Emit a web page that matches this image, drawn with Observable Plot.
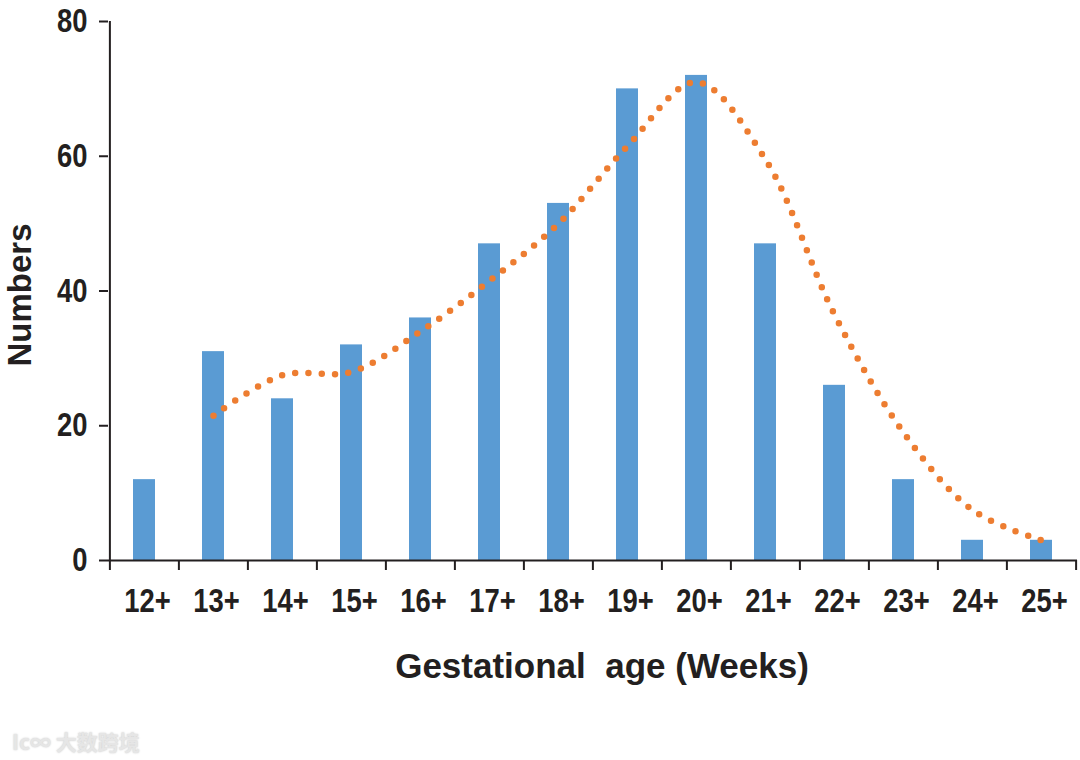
<!DOCTYPE html>
<html>
<head>
<meta charset="utf-8">
<script src="https://cdn.jsdelivr.net/npm/d3@7"></script>
<script src="https://cdn.jsdelivr.net/npm/@observablehq/plot@0.6"></script>
<style>
  html, body { margin: 0; padding: 0; background: #ffffff; }
  #wrap { position: relative; width: 1080px; height: 760px; overflow: hidden; }
  svg text { white-space: pre; }
  #wm { position: absolute; left: 12px; top: 726px; color: #e6e6e6;
        font-family: "Noto Sans CJK SC", sans-serif; font-size: 21px; font-weight: bold;
        text-shadow: 0 0 2px #c8c8c8; }
</style>
</head>
<body>
<div id="wrap"><div id="chart"></div><div id="wm">Ic∞ 大数跨境</div></div>
<script>
// Data
const ages = ["12+","13+","14+","15+","16+","17+","18+","19+","20+","21+","22+","23+","24+","25+"];
const counts = [12, 31, 24, 32, 36, 47, 53, 70, 72, 47, 26, 12, 3, 3];
const trendAges = ["13+","14+","15+","16+","17+","18+","19+","20+","21+","22+","23+","24+","25+"];
const trendValues = [21.5, 27.5, 28, 34, 41.5, 50, 61.5, 71, 59.5, 36.5, 19, 7.5, 3];
const yTicks = [0, 20, 40, 60, 80];

const bars = ages.map((a, i) => ({age: a, count: counts[i]}));
const trend = trendAges.map((a, i) => ({age: a, value: trendValues[i]}));

const W = 1080, H = 700, ML = 108, MR = 3, MT = 21, MB = 140;
const step = (W - ML - MR) / ages.length;
const ink = "#231f20";
const sans = "'Liberation Sans', Arial, sans-serif";

const chart = Plot.plot({
  width: W, height: H,
  marginLeft: ML, marginRight: MR, marginTop: MT, marginBottom: MB,
  style: {background: "#ffffff", color: ink, fontFamily: sans},
  x: {type: "band", domain: ages, paddingInner: 0.68, paddingOuter: 0.34, axis: null},
  y: {domain: [0, 80], axis: null},
  marks: [
    Plot.barY(bars, {x: "age", y: "count", fill: "#5a9bd3"}),
    Plot.line(trend, {x: "age", y: "value", curve: "catmull-rom", stroke: "#ed7d31",
      strokeWidth: 6.5, strokeDasharray: "0 13.3", strokeLinecap: "round"}),
    // axis lines
    Plot.ruleY([0], {stroke: ink, strokeWidth: 2}),
    Plot.ruleX([ages[0]], {x: d => d, dx: -step / 2, y1: 0, y2: 80, stroke: ink, strokeWidth: 2}),
    // x ticks at category boundaries
    Plot.ruleX(ages, {x: d => d, dx: -step / 2, y1: 0, y2: 0, insetBottom: -10, stroke: ink, strokeWidth: 2}),
    Plot.ruleX([ages[ages.length - 1]], {x: d => d, dx: step / 2, y1: 0, y2: 0, insetBottom: -10, stroke: ink, strokeWidth: 2}),
    // y axis ticks and labels
    Plot.axisY({ticks: yTicks, tickSize: 9, tickPadding: 12, tickFormat: d => String(d), label: null,
      fontSize: 33, fontWeight: "bold", fontFamily: sans, stroke: ink, strokeWidth: 2, fill: ink}),
    // x tick labels
    Plot.axisX({tickSize: 0, tickPadding: 28, dx: 3, label: null,
      fontSize: 33, fontWeight: "bold", fontFamily: sans, fill: ink}),
    // axis titles
    Plot.text(["Numbers"], {frameAnchor: "left", textAnchor: "middle", lineAnchor: "middle",
      dx: -88, dy: 4, rotate: -90, text: d => d, fontSize: 33, fontWeight: "bold", fill: ink}),
    Plot.text(["Gestational  age (Weeks)"], {frameAnchor: "bottom", textAnchor: "middle", lineAnchor: "middle",
      dx: 9, dy: 106, text: d => d, fontSize: 35, fontWeight: "bold", fill: ink})
  ]
});
// condense tick label glyphs horizontally (reference uses a narrow bold face)
chart.querySelectorAll("g[aria-label='y-axis tick label'] text, g[aria-label='x-axis tick label'] text").forEach(t => {
  const tr = t.getAttribute("transform") || "";
  t.setAttribute("transform", tr + " scale(0.83,1)");
});
document.getElementById("chart").appendChild(chart);
</script>
</body>
</html>
